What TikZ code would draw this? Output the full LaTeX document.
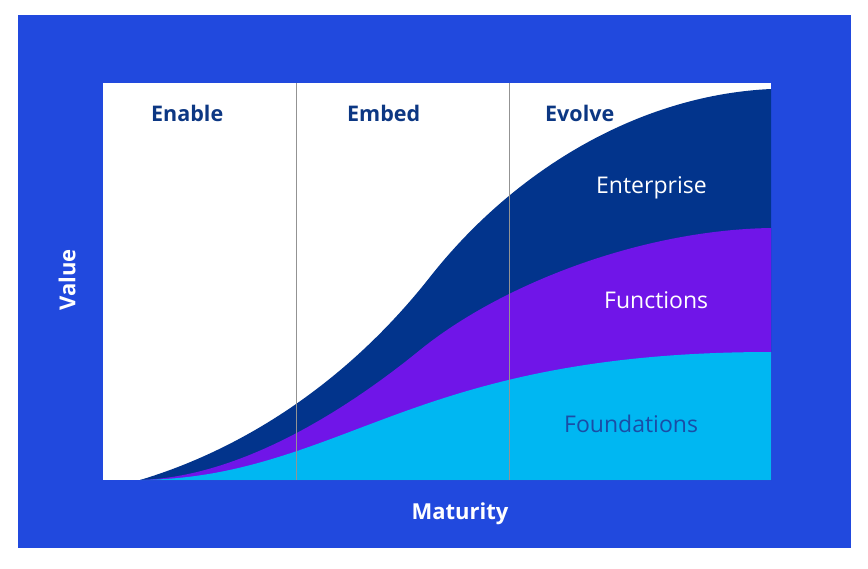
\documentclass[tikz,border=0pt]{standalone}
\usepackage{fontspec}
\setmainfont{Open Sans}
\definecolor{frameblue}{HTML}{2149DE}
\definecolor{navy}{HTML}{02348C}
\definecolor{navytext}{HTML}{0C3783}
\definecolor{purp}{HTML}{7015E8}
\definecolor{cyanb}{HTML}{00B7F2}
\definecolor{foundtext}{HTML}{1A4DA6}
\tikzset{
  phase/.style={font=\bfseries\fontsize{21.5}{25}\selectfont, text=navytext, anchor=base west, inner sep=0pt},
  layerlbl/.style={font=\fontsize{23}{26}\selectfont, anchor=base west, inner sep=0pt},
  axislbl/.style={font=\bfseries\fontsize{22}{25}\selectfont, text=white, inner sep=0pt},
  divider/.style={draw=gray!85, line width=0.8pt}
}
\begin{document}
\begin{tikzpicture}[x=1pt,y=-1pt]
\useasboundingbox (0,0) rectangle (868,568);
\fill[white] (0,0) rectangle (868,568);
\fill[frameblue] (18,15) rectangle (851,548);
\fill[white] (103,83) rectangle (771,480);
% Enterprise layer
\fill[navy] (140,480) .. controls (240,450) and (345,385) .. (430,277)
  .. controls (515,169) and (640,95) .. (771,89) -- (771,480) -- cycle;
% Functions layer
\fill[purp] (140,480) .. controls (240,477) and (345,411) .. (420,350)
  .. controls (500,285) and (640,230) .. (771,228) -- (771,480) -- cycle;
% Foundations layer
\fill[cyanb] (140,480) .. controls (220,479) and (279,459) .. (360,428)
  .. controls (450,394) and (560,352) .. (771,352) -- (771,480) -- cycle;
% dividers
\coordinate (d1t) at (296,83); \coordinate (d1b) at (296,480);
\coordinate (d2t) at (509,83); \coordinate (d2b) at (509,480);
\draw[divider] (d1t) -- (d1b);
\draw[divider] (d2t) -- (d2b);
% labels
\node[phase] (enable) at (151,121) {Enable};
\node[phase] (embed) at (347,121) {Embed};
\node[phase] (evolve) at (545,121) {Evolve};
\node[layerlbl, text=white] (ent) at (596,193) {Enterprise};
\node[layerlbl, text=white] (fun) at (604,308) {Functions};
\node[layerlbl, text=foundtext] (fnd) at (564,432) {Foundations};
\node[axislbl, rotate=90] (value) at (67,280) {Value};
\node[axislbl] (mat) at (460,514) {Maturity};
\end{tikzpicture}
\end{document}
